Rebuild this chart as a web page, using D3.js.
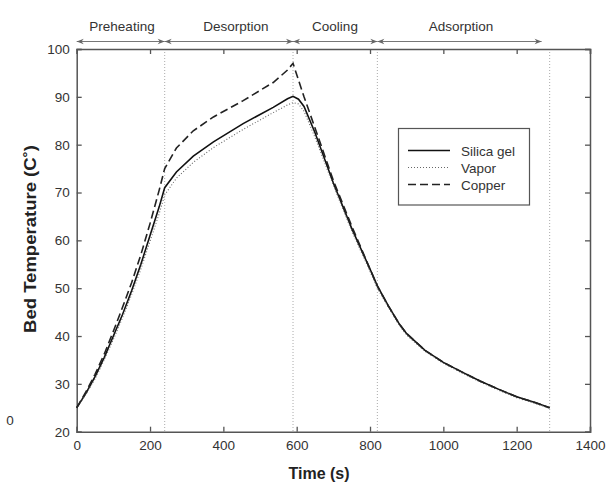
<!DOCTYPE html>
<html><head><meta charset="utf-8">
<script src="https://cdn.jsdelivr.net/npm/d3@7"></script>
<style>body{margin:0;background:#fff}svg{display:block}text{font-family:"Liberation Sans",Arial,sans-serif}</style>
</head><body><svg id="c" width="616" height="483"></svg>
<script>
const xTicks=[0,200,400,600,800,1000,1200,1400];
const yTicks=[20,30,40,50,60,70,80,90,100];
const phaseBounds=[240,590,820,1290];
const phases=[{name:"Preheating",from:0,to:240},{name:"Desorption",from:240,to:590},{name:"Cooling",from:590,to:820},{name:"Adsorption",from:820,to:1268}];
const time=[0,25,50,75,100,125,150,175,200,225,240,272,318,373,454,536,575,590,605,620,650,700,750,800,820,850,880,900,950,1000,1050,1100,1150,1200,1250,1290];
const silica=[25,28,31.5,35.5,40,44.5,49.5,55,61,67,71,74.3,77.6,80.6,84.4,87.8,89.6,90.1,89.5,88,82.5,72,62.5,54,50.5,46.3,42.5,40.5,37,34.5,32.5,30.6,28.9,27.3,26.1,25];
const vapor=[25,27.8,31,35,39.3,43.8,48.7,54,59.8,65.6,69.5,73,76.3,79.4,83.2,86.7,88.3,88.8,88.5,87,81.5,71.5,62,53.5,50,46,42.2,40.2,36.8,34.3,32.3,30.4,28.7,27.1,25.9,24.9];
const copper=[25,28.3,32,36.2,41,46,51.2,57,63.5,70.5,75,79.3,82.9,85.8,89.2,93,95.6,97,93.5,90,83.5,72.5,63,54,50.5,46.3,42.5,40.5,37,34.5,32.5,30.6,28.9,27.3,26.1,25];
const series=[{name:"Silica gel",values:silica,color:"#111",dash:null,w:1.6},{name:"Vapor",values:vapor,color:"#666",dash:"1,2",w:1.1},{name:"Copper",values:copper,color:"#222",dash:"8,4",w:1.6}];

const svg=d3.select("#c");
const L=76.7,R=590,T=49,B=431.7;
const x=d3.scaleLinear().domain([0,1400]).range([L,R]);
const y=d3.scaleLinear().domain([20,100]).range([B,T]);
const ax="#555",tc="#333",fs=13.5;

svg.selectAll(".pb").data(phaseBounds).join("line")
 .attr("x1",d=>x(d)).attr("x2",d=>x(d)).attr("y1",T).attr("y2",B)
 .attr("stroke","#aaa").attr("stroke-width",1).attr("stroke-dasharray","1,2");

const gB=svg.append("g").attr("transform",`translate(0,${B})`).call(d3.axisBottom(x).tickValues(xTicks).tickSize(-5).tickPadding(9).tickFormat(d3.format("d")));
const gT=svg.append("g").attr("transform",`translate(0,${T})`).call(d3.axisTop(x).tickValues(xTicks).tickSize(-5).tickFormat(""));
const gL=svg.append("g").attr("transform",`translate(${L},0)`).call(d3.axisLeft(y).tickValues(yTicks).tickSize(-5).tickPadding(7));
const gR=svg.append("g").attr("transform",`translate(${R},0)`).call(d3.axisRight(y).tickValues(yTicks).tickSize(-5).tickFormat(""));
[gB,gT,gL,gR].forEach(g=>{
 g.select(".domain").attr("stroke",ax).attr("stroke-width",1.5);
 g.selectAll(".tick line").attr("stroke",ax).attr("stroke-width",1.3);
 g.selectAll(".tick text").attr("fill",tc).attr("font-size",fs).attr("font-family","Liberation Sans, Arial, sans-serif");
});

const line=d3.line().x((d,i)=>x(time[i])).y(d=>y(d));
series.forEach(s=>{
 svg.append("path").datum(s.values).attr("d",line).attr("fill","none")
  .attr("stroke",s.color).attr("stroke-width",s.w).attr("stroke-dasharray",s.dash);
});

const defs=svg.append("defs");
defs.append("marker").attr("id","ah").attr("viewBox","0 0 10 10").attr("refX",10).attr("refY",5)
 .attr("markerWidth",9).attr("markerHeight",7).attr("markerUnits","userSpaceOnUse").attr("orient","auto-start-reverse")
 .append("path").attr("d","M0,1 L10,5 L0,9 L3,5 Z").attr("fill","#666");
const ay=41.5;
phases.forEach(p=>{
 svg.append("line").attr("x1",x(p.from)).attr("x2",x(p.to)).attr("y1",ay).attr("y2",ay)
  .attr("stroke","#777").attr("stroke-width",1.2)
  .attr("marker-start","url(#ah)").attr("marker-end","url(#ah)");
});
svg.selectAll(".pl").data(phases).join("text")
 .attr("x",(d,i)=>[122,236,335,461][i]).attr("y",31).attr("text-anchor","middle")
 .attr("font-size",fs).attr("fill",tc).text(d=>d.name);

const lg=svg.append("g");
lg.append("rect").attr("x",398.5).attr("y",128.5).attr("width",131).attr("height",76.5)
 .attr("fill","#fff").attr("stroke","#555").attr("stroke-width",1.2);
series.forEach((s,i)=>{
 const yy=[150.5,167.5,184.5][i];
 lg.append("line").attr("x1",408).attr("x2",450).attr("y1",yy).attr("y2",yy)
  .attr("stroke",s.color).attr("stroke-width",s.w).attr("stroke-dasharray",s.dash);
 lg.append("text").attr("x",461).attr("y",yy+5).attr("font-size",fs).attr("fill",tc).text(s.name);
});

svg.append("text").attr("transform","translate(36,239) rotate(-90)").attr("text-anchor","middle")
 .attr("font-size",16.5).attr("font-weight","bold").attr("fill","#222")
 .attr("textLength",188).attr("lengthAdjust","spacingAndGlyphs").text("Bed Temperature (C˚)");
svg.append("text").attr("x",319).attr("y",479).attr("text-anchor","middle")
 .attr("font-size",16).attr("font-weight","bold").attr("fill","#222").text("Time (s)");
svg.append("text").attr("x",10).attr("y",425).attr("text-anchor","middle").attr("font-size",fs).attr("fill",tc).text("0");
</script></body></html>
